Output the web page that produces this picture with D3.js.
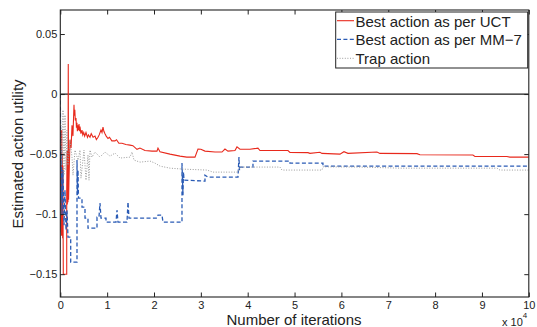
<!DOCTYPE html>
<html>
<head>
<meta charset="utf-8">
<script src="https://cdn.jsdelivr.net/npm/d3@7/dist/d3.min.js"></script>
<style>
  html, body { margin: 0; padding: 0; background: #fff; }
  svg { display: block; font-family: "Liberation Sans", Arial, sans-serif; }
</style>
</head>
<body>
<svg id="chart" width="537" height="327"></svg>
<script>
// ---------- data ----------
const seriesNames = ["Best action as per UCT", "Best action as per MM\u22127", "Trap action"];

// [iterations, estimated utility]
const uctData = [
  [100,-0.03],[150,-0.115],[200,-0.04],[260,-0.118],[320,-0.03],[380,-0.11],[440,-0.05],[500,-0.12],
  [560,-0.06],[600,-0.113],[640,-0.15],[1370,-0.15],[1370,-0.08],[1450,-0.047],[1500,-0.092],
  [1560,-0.055],[1640,-0.09],[1700,0.025],[1760,-0.088],[1850,-0.072],[2070,-0.038],[2300,-0.045],
  [2500,-0.026],[2700,-0.035],[2924,-0.009],[3000,-0.018],[3100,-0.013],[3200,-0.022],[3350,-0.02],
  [3450,-0.028],[3550,-0.024],[3650,-0.031],[3777,-0.026],[3900,-0.03],[4000,-0.025],[4100,-0.031],
  [4204,-0.027],[4400,-0.033],[4631,-0.03],[4800,-0.034],[5000,-0.032],[5200,-0.035],[5484,-0.032],
  [5800,-0.036],[6000,-0.034],[6338,-0.036],[6600,-0.033],[7000,-0.036],[7405,-0.035],[7700,-0.038],
  [8046,-0.036],[8300,-0.034],[8686,-0.030],[8900,-0.032],[9113,-0.0275],[9300,-0.031],[9540,-0.033],
  [9800,-0.035],[10180,-0.037],[10500,-0.036],[11000,-0.039],[11674,-0.039],[12000,-0.038],
  [12500,-0.041],[13168,-0.041],[14000,-0.042],[14875,-0.0425],[15500,-0.043],[16369,-0.046],
  [17000,-0.045],[18076,-0.047],[19570,-0.0475],[20637,-0.0475],[20851,-0.045],[21278,-0.048],
  [23412,-0.05],[25546,-0.0517],[27000,-0.0525],[28747,-0.0525],[29387,-0.0458],[30000,-0.046],
  [30881,-0.0475],[33015,-0.0483],[34509,-0.0483],[35149,-0.0458],[35790,-0.0475],[37284,-0.047],
  [37710,-0.044],[38350,-0.046],[40484,-0.046],[42192,-0.045],[42618,-0.047],[48594,-0.047],
  [49020,-0.0486],[52861,-0.0488],[53288,-0.0494],[55422,-0.0485],[55849,-0.0494],[59690,-0.05],
  [60544,-0.048],[61397,-0.0494],[67586,-0.0483],[68226,-0.0494],[76122,-0.0496],[76762,-0.0506],
  [88072,-0.0508],[88499,-0.052],[95328,-0.052],[95968,-0.0525],[100000,-0.0525]
];

const mm7Data = [
  [0,0],[149,-0.0883],[256,-0.0467],[363,-0.1008],[576,-0.0633],[790,-0.1092],[1003,-0.08],
  [1217,-0.1133],[1430,-0.0967],[1643,-0.1192],[2219,-0.1192],[2219,-0.14],[3564,-0.14],
  [3564,-0.055],[3670,-0.0842],[3777,-0.0633],[3884,-0.0867],[4631,-0.0867],[4631,-0.0942],
  [5271,-0.0942],[5271,-0.1033],[5911,-0.1033],[5911,-0.1117],[7832,-0.1117],[7832,-0.1025],
  [8259,-0.1025],[8472,-0.0908],[8686,-0.1033],[9753,-0.1033],[9753,-0.1067],[11887,-0.1067],
  [12100,-0.0967],[12314,-0.1067],[14234,-0.1067],[14448,-0.09],[14662,-0.1033],[20637,-0.1033],
  [20851,-0.1008],[21704,-0.1008],[21918,-0.1067],[25973,-0.1067],[25973,-0.0575],[26186,-0.0842],
  [26293,-0.065],[26400,-0.0717],[30881,-0.0725],[30881,-0.0675],[31521,-0.0692],[37924,-0.0692],
  [38137,-0.0525],[38244,-0.0633],[38350,-0.0608],[41125,-0.0608],[41125,-0.0558],[42618,-0.0558],
  [49020,-0.0558],[49020,-0.0575],[56062,-0.0575],[56062,-0.06],[100000,-0.06]
];

const trapData = [
  [149,-0.0258],[363,-0.0592],[576,-0.0133],[790,-0.0675],[1003,-0.0175],[1217,-0.0633],[1430,-0.03],
  [1643,-0.0592],[2070,-0.0383],[2497,-0.0525],[2710,-0.0675],[3137,-0.0467],[3777,-0.055],
  [4204,-0.0467],[4417,-0.07],[5057,-0.0467],[5484,-0.0717],[5911,-0.0508],[6124,-0.0717],
  [6338,-0.0467],[6765,-0.0525],[7405,-0.0483],[8472,-0.0525],[9540,-0.0483],[10606,-0.0517],
  [11674,-0.0492],[12741,-0.0533],[14875,-0.0525],[15302,-0.0483],[15729,-0.055],[17009,-0.0567],
  [19143,-0.0558],[20210,-0.0575],[21278,-0.06],[23412,-0.0617],[26186,-0.0625],[31307,-0.0633],
  [32588,-0.065],[37924,-0.065],[38350,-0.0608],[46886,-0.0608],[47313,-0.0633],[55849,-0.0633],
  [56062,-0.0606],[63958,-0.0608],[72494,-0.0617],[93194,-0.0617],[93834,-0.0633],[100000,-0.0633]
];

const xTicks = [0,10000,20000,30000,40000,50000,60000,70000,80000,90000,100000];
const xTickLabels = ["0","1","2","3","4","5","6","7","8","9","10"];
const yTicks = [0.05, 0, -0.05, -0.1, -0.15];
const yTickLabels = ["0.05","0","\u22120.05","\u22120.1","\u22120.15"];

// ---------- layout ----------
const svg = d3.select("#chart");
const L = 60.3, R = 528.8, T = 10, B = 297;

const x = d3.scaleLinear().domain([0, 100000]).range([L, R]);
const y = d3.scaleLinear().domain([-0.169, 0.07]).range([B, T]);

svg.append("defs").append("clipPath").attr("id","clip")
  .append("rect").attr("x", L).attr("y", T).attr("width", R - L).attr("height", B - T);

const plot = svg.append("g").attr("clip-path","url(#clip)");

// zero line
plot.append("line")
  .attr("x1", x(0)).attr("x2", x(100000)).attr("y1", y(0)).attr("y2", y(0))
  .attr("stroke", "#1a1a1a").attr("stroke-width", 1.3);

const line = d3.line().x(d => x(d[0])).y(d => y(d[1]));

const styles = [
  {data: uctData, color: "#e8291c", width: 1.1, dash: null},
  {data: mm7Data, color: "#2a5bb5", width: 1.3, dash: "4,2.4"},
  {data: trapData, color: "#9a9a9a", width: 1.0, dash: "1,1.6"}
];

styles.forEach(s => {
  plot.append("path").datum(s.data)
    .attr("d", line).attr("fill","none")
    .attr("stroke", s.color).attr("stroke-width", s.width)
    .attr("stroke-dasharray", s.dash);
});

// ---------- axes (MATLAB style box, inward ticks) ----------
const tickLen = 4.5;
const axBottom = d3.axisBottom(x).tickValues(xTicks).tickFormat((d,i) => xTickLabels[i])
  .tickSizeInner(-tickLen).tickSizeOuter(0).tickPadding(4);
const axTop = d3.axisTop(x).tickValues(xTicks).tickFormat("")
  .tickSizeInner(-tickLen).tickSizeOuter(0);
const axLeft = d3.axisLeft(y).tickValues(yTicks).tickFormat((d,i) => yTickLabels[i])
  .tickSizeInner(-tickLen).tickSizeOuter(0).tickPadding(3);
const axRight = d3.axisRight(y).tickValues(yTicks).tickFormat("")
  .tickSizeInner(-tickLen).tickSizeOuter(0);

function styleAxis(g) {
  g.select(".domain").remove();
  g.selectAll(".tick line").attr("stroke", "#222").attr("stroke-width", 1);
  g.selectAll(".tick text").attr("fill", "#222").style("font-size", "11px")
    .style("font-family", "'Liberation Sans', Arial, sans-serif");
}

svg.append("g").attr("transform", `translate(0,${B})`).call(axBottom).call(styleAxis);
svg.append("g").attr("transform", `translate(0,${T})`).call(axTop).call(styleAxis);
svg.append("g").attr("transform", `translate(${L},0)`).call(axLeft).call(styleAxis);
svg.append("g").attr("transform", `translate(${R},0)`).call(axRight).call(styleAxis);

// box
svg.append("rect").attr("x", L).attr("y", T).attr("width", R - L).attr("height", B - T)
  .attr("fill", "none").attr("stroke", "#222").attr("stroke-width", 1.1);

// axis titles
svg.append("text").attr("x", 294).attr("y", 325).attr("text-anchor", "middle")
  .style("font-size", "15px").attr("fill", "#222").text("Number of iterations");
svg.append("text").attr("transform", "translate(23,154) rotate(-90)").attr("text-anchor", "middle")
  .style("font-size", "15px").attr("fill", "#222").text("Estimated action utility");

// exponent label
const ex = svg.append("text").attr("x", 502).attr("y", 326).style("font-size", "11px").attr("fill", "#222");
ex.append("tspan").text("x 10");
ex.append("tspan").attr("dy", -8).style("font-size", "8px").text("4");

// legend
const lg = svg.append("g");
lg.append("rect").attr("x", 335.7).attr("y", 12).attr("width", 192).attr("height", 56)
  .attr("fill", "#fff").attr("stroke", "#222").attr("stroke-width", 1);
const rowY = [20.7, 39.3, 58.3];
styles.forEach((s, i) => {
  lg.append("line").attr("x1", 337).attr("x2", 354).attr("y1", rowY[i]).attr("y2", rowY[i])
    .attr("stroke", s.color).attr("stroke-width", s.width).attr("stroke-dasharray", s.dash);
  lg.append("text").attr("x", 355.5).attr("y", rowY[i] + 6).style("font-size", "15px")
    .attr("fill", "#222").text(seriesNames[i]);
});
</script>
</body>
</html>
